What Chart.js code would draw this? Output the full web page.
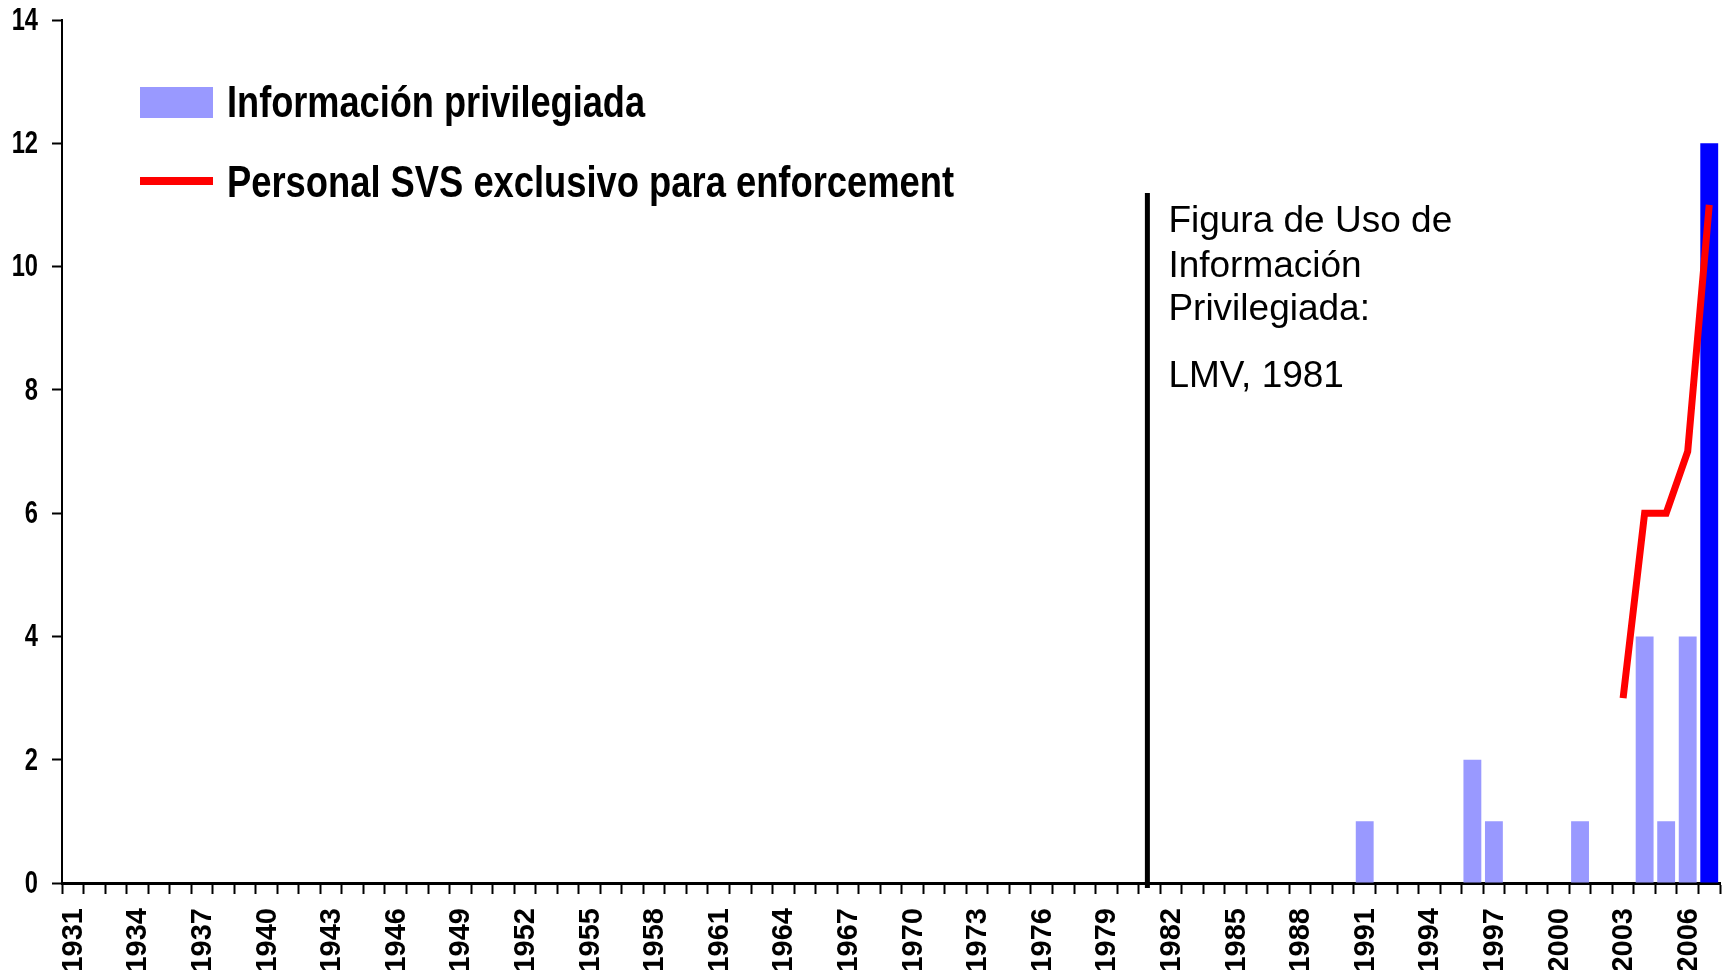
<!DOCTYPE html>
<html>
<head>
<meta charset="utf-8">
<script src="https://cdn.jsdelivr.net/npm/chart.js@4.4.1/dist/chart.umd.min.js"></script>
<style>
  html, body { margin: 0; padding: 0; background: #fff; overflow: hidden; }
  #wrap { position: relative; width: 1729px; height: 970px; }
</style>
</head>
<body>
<div id="wrap"><canvas id="chart"></canvas></div>
<script>
// categories: one per year
var firstYear = 1931;
var lastYear = 2007;
var years = [];
for (var y = firstYear; y <= lastYear; y++) years.push(String(y));

// Información privilegiada (bars)
var barYears = [1991, 1996, 1997, 2001, 2004, 2005, 2006, 2007];
var barValues = [1, 2, 1, 1, 4, 1, 4, 12];

// Personal SVS exclusivo para enforcement (line)
var lineYears = [2003, 2004, 2005, 2006, 2007];
var lineValues = [3, 6, 6, 7, 11];

// y axis ticks
var yTicks = [0, 2, 4, 6, 8, 10, 12, 14];

var barLabel = 'Información privilegiada';
var lineLabel = 'Personal SVS exclusivo para enforcement';
var markYear = '1981';
var noteLines = ['Figura de Uso de', 'Información', 'Privilegiada:', 'LMV, 1981'];

// spread the values onto the year categories
function spread(ys, vals) {
  var out = years.map(function () { return null; });
  ys.forEach(function (yr, i) { out[yr - firstYear] = vals[i]; });
  return out;
}
var barData = spread(barYears, barValues);
var lineData = spread(lineYears, lineValues);
var barColors = years.map(function (yr) { return yr === '2007' ? '#0000FF' : '#9999FF'; });

var sans = '"Liberation Sans", Arial, sans-serif';

// draw text squeezed to a narrow look
function narrowText(ctx, text, x, y, sx) {
  ctx.save();
  ctx.translate(x, y);
  ctx.scale(sx, 1);
  ctx.fillText(text, 0, 0);
  ctx.restore();
}

// year labels, y labels, legend and the 1981 marker
var extras = {
  id: 'extras',
  afterDraw: function (chart) {
    var ctx = chart.ctx;
    var xs = chart.scales.x;
    var ys = chart.scales.y;

    // x labels, every third year
    ctx.save();
    ctx.fillStyle = '#000';
    ctx.font = 'bold 29px ' + sans;
    ctx.textAlign = 'right';
    ctx.textBaseline = 'middle';
    years.forEach(function (yr, i) {
      if ((yr - firstYear) % 3 !== 0) return;
      ctx.save();
      ctx.translate(xs.getPixelForValue(i) + 1, ys.bottom + 25);
      ctx.rotate(-Math.PI / 2);
      ctx.fillText(yr, 0, 0);
      ctx.restore();
    });
    ctx.restore();

    // y labels
    ctx.save();
    ctx.fillStyle = '#000';
    ctx.font = 'bold 32px ' + sans;
    ctx.textAlign = 'right';
    ctx.textBaseline = 'middle';
    yTicks.forEach(function (v) {
      narrowText(ctx, String(v), 38, ys.getPixelForValue(v) + 1, 0.74);
    });
    ctx.restore();

    // 1981 marker
    var mx = xs.getPixelForValue(years.indexOf(markYear)) - 2;
    ctx.save();
    ctx.strokeStyle = '#000';
    ctx.lineWidth = 5;
    ctx.beginPath();
    ctx.moveTo(mx, 193);
    ctx.lineTo(mx, ys.bottom + 5);
    ctx.stroke();
    ctx.fillStyle = '#000';
    ctx.font = '37px ' + sans;
    ctx.textAlign = 'left';
    ctx.textBaseline = 'alphabetic';
    var baselines = [232, 277, 320, 387];
    noteLines.forEach(function (t, i) { ctx.fillText(t, mx + 21, baselines[i]); });
    ctx.restore();

    // legend
    ctx.save();
    ctx.fillStyle = '#9999FF';
    ctx.fillRect(140, 87, 73, 31);
    ctx.fillStyle = '#FF0000';
    ctx.fillRect(140, 177, 73, 8);
    ctx.fillStyle = '#000';
    ctx.font = 'bold 45px ' + sans;
    ctx.textAlign = 'left';
    ctx.textBaseline = 'alphabetic';
    narrowText(ctx, barLabel, 227, 117, 418 / ctx.measureText(barLabel).width);
    narrowText(ctx, lineLabel, 227, 197, 727 / ctx.measureText(lineLabel).width);
    ctx.restore();
  }
};

var ctx = document.getElementById('chart').getContext('2d');
var chart = new Chart(ctx, {
  type: 'bar',
  data: {
    labels: years,
    datasets: [
      {
        type: 'line',
        label: lineLabel,
        data: lineData,
        borderColor: '#FF0000',
        borderWidth: 7,
        borderCapStyle: 'butt',
        pointRadius: 0,
        tension: 0,
        fill: false,
        order: 0
      },
      {
        type: 'bar',
        label: barLabel,
        data: barData,
        backgroundColor: barColors,
        borderWidth: 0,
        barPercentage: 0.83,
        categoryPercentage: 1.0,
        order: 1
      }
    ]
  },
  options: {
    responsive: true,
    maintainAspectRatio: false,
    animation: false,
    layout: { padding: { top: 20, right: 9, left: 0, bottom: 0 } },
    plugins: {
      legend: { display: false },
      tooltip: { enabled: false }
    },
    scales: {
      x: {
        offset: true,
        grid: {
          offset: true,
          drawOnChartArea: false,
          drawTicks: true,
          tickLength: 11,
          tickColor: '#000',
          tickWidth: 2
        },
        border: { display: true, color: '#000', width: 3 },
        ticks: { display: false, autoSkip: false },
        afterFit: function (scale) { scale.height = 87; }
      },
      y: {
        min: 0,
        max: 14,
        afterBuildTicks: function (scale) {
          scale.ticks = yTicks.map(function (v) { return { value: v }; });
        },
        grid: {
          drawOnChartArea: false,
          drawTicks: true,
          tickLength: 10,
          tickColor: '#000',
          tickWidth: 2
        },
        border: { display: true, color: '#000', width: 2 },
        ticks: { display: false },
        afterFit: function (scale) { scale.width = 62; }
      }
    }
  },
  plugins: [extras]
});
</script>
</body>
</html>
